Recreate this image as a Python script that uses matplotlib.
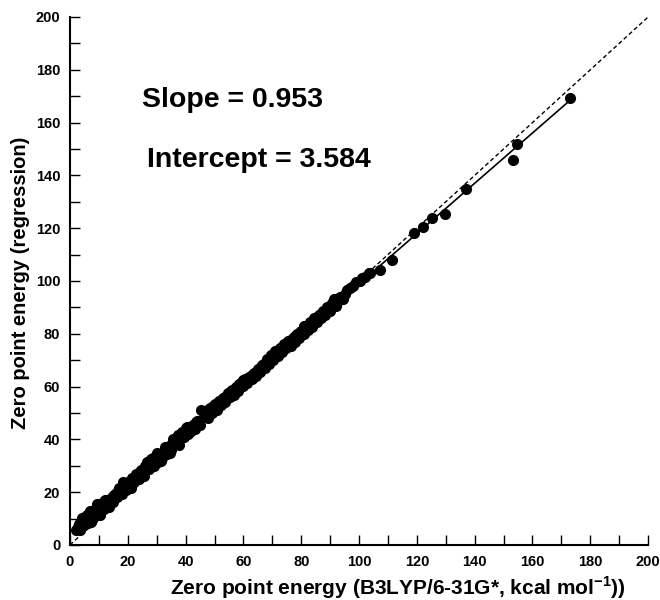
import matplotlib
matplotlib.use("Agg")
import matplotlib.pyplot as plt
from matplotlib.ticker import MultipleLocator

plt.rcParams['font.family'] = ['Liberation Sans', 'DejaVu Sans']
plt.rcParams['mathtext.fontset'] = 'custom'
plt.rcParams['mathtext.bf'] = 'Liberation Sans:bold'
plt.rcParams['mathtext.rm'] = 'Liberation Sans:bold'

x_dft = [2.0, 2.8, 3.5, 4.2, 5.0, 5.5, 6.2, 6.8, 7.5, 8.0, 8.8, 9.5, 10.2, 11.0, 11.8, 12.5,
         13.2, 14.0, 14.8, 15.5, 16.2, 17.0, 17.8, 18.5, 19.3, 20.0, 20.8, 21.5, 22.3, 23.0,
         23.8, 24.5, 25.3, 26.0, 26.8, 27.5, 28.2, 29.0, 29.8, 30.5, 31.2, 32.0, 32.8, 33.5,
         34.3, 35.0, 35.8, 36.5, 37.3, 38.0, 38.8, 39.5, 40.3, 41.0, 41.8, 42.5, 43.3, 44.0,
         44.8, 45.5, 46.3, 47.0, 47.8, 48.5, 49.3, 50.0, 50.8, 51.5, 52.3, 53.0, 53.8, 54.5,
         55.3, 56.0, 56.8, 57.5, 58.3, 59.0, 59.8, 60.5, 61.3, 62.0, 62.8, 63.5, 64.3, 65.0,
         65.8, 66.5, 67.3, 68.0, 68.8, 69.5, 70.3, 71.0, 71.8, 72.5, 73.3, 74.0, 74.8, 75.5,
         76.3, 77.0, 77.8, 78.5, 79.3, 80.0, 80.8, 81.5, 82.3, 83.0, 83.8, 84.5, 85.3, 86.0,
         86.8, 87.5, 88.3, 89.0, 89.8, 90.5, 91.3, 92.0, 92.8, 93.5, 94.5, 96.0, 97.0, 99.0,
         100.5, 101.0, 102.0, 103.5, 103.8,
         3.0, 4.5, 6.0, 7.2, 9.0, 10.5, 12.0, 13.5, 15.0, 16.5, 18.0, 19.8, 21.0, 22.8, 24.2,
         25.6, 27.2, 28.6, 30.0, 31.6, 33.0, 34.6, 36.0, 37.6, 39.0, 40.6, 42.0, 43.6, 45.0,
         46.6, 48.0, 49.6, 51.0, 52.6, 54.0, 55.6, 57.0, 58.6, 60.0, 61.6, 63.0, 64.6, 66.0,
         67.6, 69.0, 70.6, 72.0, 73.6, 75.0, 76.6, 78.0, 79.6, 81.0, 82.6, 84.0, 85.6, 87.0,
         88.6, 90.0, 91.8, 95.0, 98.0,
         107.3, 111.4, 119.0, 122.1, 125.3, 129.8, 137.0, 153.3, 154.7, 173.0]
y_reg = [5.5, 6.8, 5.8, 10.2, 7.5, 11.0, 8.2, 13.0, 9.5, 12.0, 10.8, 15.5, 13.0, 15.8, 13.5, 16.8,
         15.0, 17.5, 16.2, 19.5, 18.0, 21.5, 19.2, 23.8, 21.0, 24.0, 22.2, 25.5, 23.8, 26.8,
         25.0, 28.5, 27.0, 29.8, 31.5, 28.8, 32.5, 30.0, 33.8, 31.5, 34.5, 33.0, 36.2, 34.5,
         37.5, 36.0, 40.2, 38.8, 41.5, 40.0, 42.8, 41.0, 44.5, 42.2, 44.0, 45.5, 44.0, 47.0,
         46.0, 51.0, 48.5, 50.5, 48.0, 52.0, 50.0, 53.5, 51.2, 54.5, 53.0, 55.8, 54.0, 57.5,
         56.0, 58.8, 57.0, 60.0, 58.5, 61.5, 60.2, 63.0, 61.5, 63.5, 62.8, 65.0, 64.0, 66.5,
         65.5, 68.0, 67.0, 70.5, 68.5, 71.8, 70.0, 73.5, 71.5, 74.8, 73.0, 76.0, 74.5, 77.2,
         75.5, 78.5, 77.0, 80.0, 78.5, 81.0, 80.0, 82.5, 81.5, 84.5, 82.5, 86.0, 84.5, 87.2,
         86.0, 88.5, 87.0, 90.0, 88.5, 91.5, 93.0, 90.5, 92.5, 94.0, 93.0, 96.5, 97.5, 99.5,
         100.0, 101.0, 101.5, 103.0, 103.0,
         8.0, 9.0, 11.5, 8.8, 14.0, 11.5, 17.2, 14.5, 18.5, 20.5, 19.5, 23.0, 21.5, 25.2, 27.5,
         26.0, 30.5, 33.0, 34.8, 32.0, 37.0, 35.0, 39.5, 38.0, 42.0, 44.8, 43.0, 46.5, 45.5,
         49.5, 51.5, 52.5, 52.0, 55.0, 56.5, 58.5, 58.0, 61.0, 62.5, 63.0, 64.5, 66.0, 67.5,
         69.0, 69.8, 72.5, 73.0, 75.5, 76.5, 77.5, 79.0, 80.5, 83.0, 83.5, 85.0, 86.5, 87.5,
         89.0, 90.0, 91.5, 95.0, 98.0,
         104.2, 108.0, 118.2, 120.5, 123.9, 125.4, 135.0, 145.8, 151.8, 169.5]

slope = 0.953
intercept = 3.584
fit_range = [2.0, 173.0]
diag_range = [0, 200]

fig = plt.figure(figsize=(6.6, 6.0), dpi=100)
ax = fig.add_axes([0.106, 0.0917, 0.876, 0.88])

ax.plot(diag_range, diag_range, linestyle=(0, (3, 2)), color='black', lw=1.0, zorder=1)
ax.plot(fit_range, [slope * v + intercept for v in fit_range], color='black', lw=1.2, zorder=2)
ax.plot(x_dft, y_reg, 'o', color='black', markersize=7, zorder=3)

ax.set_xlim(0, 200)
ax.set_ylim(0, 200)
ax.xaxis.set_major_locator(MultipleLocator(20))
ax.xaxis.set_minor_locator(MultipleLocator(10))
ax.yaxis.set_major_locator(MultipleLocator(20))
ax.yaxis.set_minor_locator(MultipleLocator(10))
ax.tick_params(which='both', direction='in', width=1.0, labelsize=10.5, pad=7)
ax.tick_params(which='major', length=7)
ax.tick_params(which='minor', length=7)
for lab in ax.get_xticklabels() + ax.get_yticklabels():
    lab.set_fontweight('bold')
ax.spines['top'].set_visible(False)
ax.spines['right'].set_visible(False)
ax.spines['left'].set_linewidth(1.5)
ax.spines['bottom'].set_linewidth(1.5)

fig.text(398 / 660, 1 - 588 / 600,
         r'Zero point energy (B3LYP/6-31G*, kcal mol$^{\mathbf{-1}}$))',
         fontsize=15, fontweight='bold', ha='center', va='center')
fig.text(21 / 660, 1 - 283 / 600, 'Zero point energy (regression)',
         fontsize=14.5, fontweight='bold', ha='center', va='center', rotation=90)

ax.text(0.125, 0.842, 'Slope = 0.953', transform=ax.transAxes, fontsize=20.5,
        fontweight='bold', va='center', ha='left')
ax.text(0.133, 0.73, 'Intercept = 3.584', transform=ax.transAxes, fontsize=20.5,
        fontweight='bold', va='center', ha='left')

fig.savefig('out.png', dpi=100)
